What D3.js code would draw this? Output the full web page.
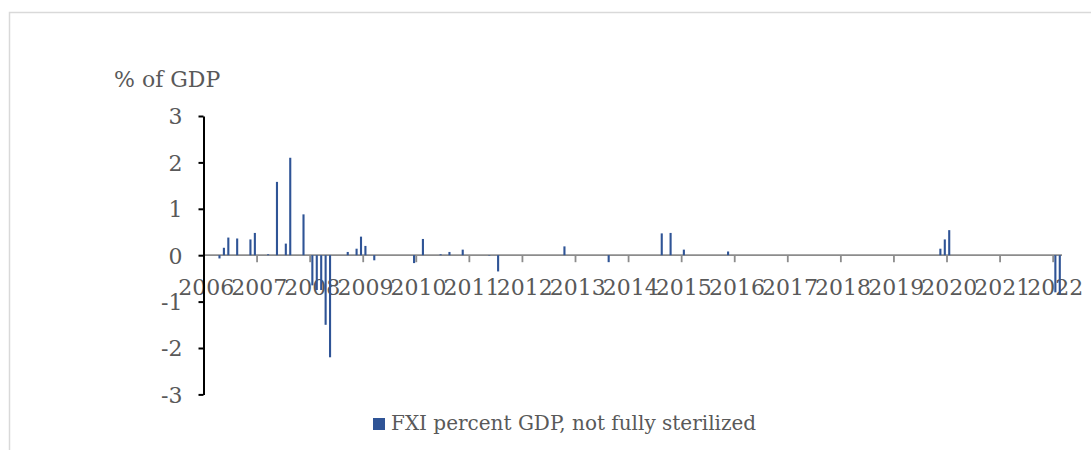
<!DOCTYPE html>
<html><head><meta charset="utf-8">
<script src="https://cdn.jsdelivr.net/npm/d3@7/dist/d3.min.js"></script>
<style>body{margin:0;background:#fff;} svg{display:block;}</style>
</head><body>
<svg id="chart" width="1091" height="450"></svg>
<script>
// ---- data ----
const yearLabels = ["2006","2007","2008","2009","2010","2011","2012","2013","2014","2015","2016","2017","2018","2019","2020","2021","2022"];
const monthsPerYear = [12,12,12,12,12,12,12,12,12,12,12,12,12,12,12,12,2];
const yTicks = [-3,-2,-1,0,1,2,3];
const seriesName = "FXI percent GDP, not fully sterilized";
const yTitle = "% of GDP";
// monthly values, one row per year (Jan..Dec)
const values2006 = [0,0,0,-0.07,0.16,0.38,0,0.36,0,0,0.34,0.48];
const values2007 = [0,0,0.02,0,1.58,0,0.25,2.10,0,0,0.88,0];
const values2008 = [-0.65,-0.75,-0.75,-1.50,-2.20,0,0,0,0.07,0,0.14,0.40];
const values2009 = [0.20,0,-0.11,0,0,0,0,0,0,0,0,-0.17];
const values2010 = [0,0.35,0,0,0,0.02,0,0.07,0,0,0.12,0];
const values2011 = [0,0,0,0,-0.01,0,-0.35,0,0,0,0,0];
const values2012 = [0,0,0,0,0,0,0,0,0,0.19,0,0];
const values2013 = [0,0,0,0,0,0,0,-0.15,0,0,0,0];
const values2014 = [0,0,0,0,0,0,0,0.47,0,0.48,0,0];
const values2015 = [0.12,0,0,0,0,0,0,0,0,0,0.08,0];
const values2016 = [0,0,0,0,0,0,0,0,0,0,0,0];
const values2017 = [0,0,0,0,0,0,0,0,0,0,0,0];
const values2018 = [0,0,0,0,0,0,0,0,0,0,0,0];
const values2019 = [0,0,0,0,0,0,0,0,0,0,0.14,0.34];
const values2020 = [0.54,0,0,0,0,0,0,0,0,0,0,0];
const values2021 = [0,0,0,0,0,0,0,0,0,0,0,0];
const values2022 = [-0.80,-0.85];

const valuesByYear = [values2006,values2007,values2008,values2009,values2010,values2011,values2012,values2013,values2014,values2015,values2016,values2017,values2018,values2019,values2020,values2021,values2022];

// categories: one per month
const categories = [];
const data = [];
yearLabels.forEach((y, yi) => {
  for (let m = 0; m < monthsPerYear[yi]; m++) {
    const key = y + "-" + String(m + 1).padStart(2, "0");
    categories.push(key);
    data.push({key, year: y, month: m, value: valuesByYear[yi][m]});
  }
});

// ---- drawing ----
const svg = d3.select("#chart");
const FONT = "'DejaVu Serif', 'Liberation Serif', serif";
const TEXT = "#595959";
const BAR = "#2F5496";

const x = d3.scaleBand().domain(categories).range([204, 1062]).paddingInner(0).paddingOuter(0);
const y = d3.scaleLinear().domain([-3, 3]).range([394.4, 116]);

// chart area border (partial, as in reference)
svg.append("path")
  .attr("d", "M9.5,450 L9.5,12.5 L1091,12.5")
  .attr("fill", "none").attr("stroke", "#d9d9d9").attr("stroke-width", 1.5);

// y title
svg.append("text").attr("x", 114).attr("y", 87)
  .attr("font-family", FONT).attr("font-size", 22).attr("fill", TEXT)
  .text(yTitle);

// x axis category labels (year at January)
const janKeys = yearLabels.map(yl => yl + "-01");
svg.append("g").selectAll("text").data(janKeys).join("text")
  .attr("x", d => x(d) + x.bandwidth() / 2)
  .attr("y", 295)
  .attr("text-anchor", "middle")
  .attr("font-family", FONT).attr("font-size", 22).attr("fill", TEXT)
  .text(d => d.slice(0, 4));

// zero line with year ticks
const xAxis = d3.axisBottom(x).tickValues(janKeys).tickSize(7).tickFormat("");
const gx = svg.append("g").attr("transform", `translate(0,${y(0)})`).call(xAxis);
gx.select(".domain").attr("stroke", "#8c8c8c").attr("stroke-width", 1.8)
  .attr("d", `M204,0H1062`);
gx.selectAll(".tick").attr("transform", d => `translate(${x(d)},0)`);
gx.selectAll(".tick line").attr("stroke", "#8c8c8c").attr("stroke-width", 1.8);

// y axis
const yAxis = d3.axisLeft(y).tickValues(yTicks).tickSize(5).tickSizeOuter(0).tickPadding(16)
  .tickFormat(d => (d < 0 ? "-" : "") + Math.abs(d));
const gy = svg.append("g").attr("transform", "translate(203.5,0)").call(yAxis);
gy.select(".domain").attr("stroke", "#000").attr("stroke-width", 2);
gy.selectAll(".tick line").attr("stroke", "#000").attr("stroke-width", 2);
gy.selectAll(".tick text").attr("font-family", FONT).attr("font-size", 22)
  .attr("fill", TEXT).attr("dy", "0.36em");

// bars
const bw = 2.1;
svg.append("g").selectAll("rect").data(data.filter(d => d.value !== 0)).join("rect")
  .attr("x", d => x(d.key) + x.bandwidth() / 2 - bw / 2)
  .attr("width", bw)
  .attr("y", d => y(Math.max(0, d.value)))
  .attr("height", d => Math.abs(y(d.value) - y(0)))
  .attr("fill", BAR);

// legend
const lg = svg.append("g");
lg.append("rect").attr("x", 373).attr("y", 418).attr("width", 12).attr("height", 12).attr("fill", BAR);
lg.append("text").attr("x", 391).attr("y", 430)
  .attr("font-family", FONT).attr("font-size", 20).attr("fill", TEXT)
  .text(seriesName);
</script>
</body></html>
